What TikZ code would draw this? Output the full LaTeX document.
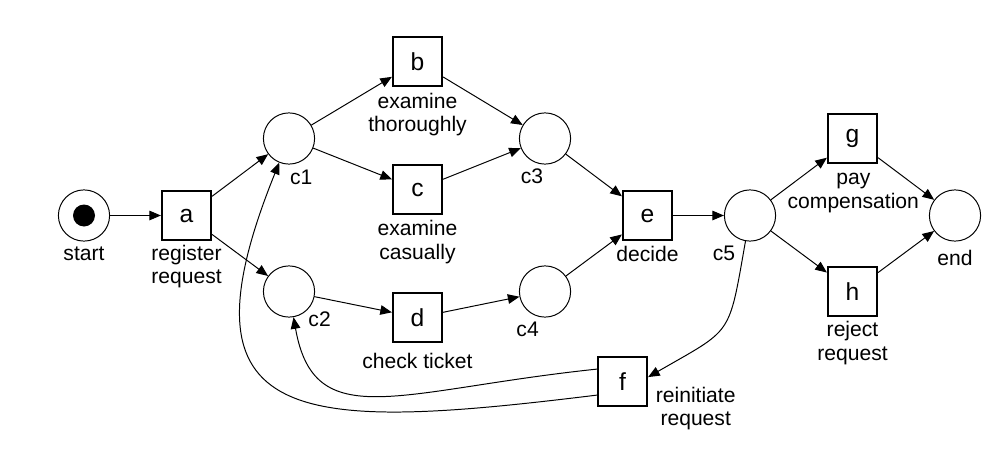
\documentclass[tikz,border=0pt]{standalone}
\usepackage{fontspec}
\setmainfont{Liberation Sans}
\usetikzlibrary{arrows.meta,calc}

\begin{document}
\begin{tikzpicture}[
  >={Triangle[length=2.9mm,width=2.4mm]},
  line cap=round,
  every node/.style={font=\fontsize{15}{16.7}\selectfont},
  netplace/.style={draw, circle, line width=0.7pt, minimum size=1.28cm, inner sep=0pt},
  nettrans/.style={draw, rectangle, line width=1.4pt, minimum size=1.23cm, inner sep=0pt,
    font=\fontsize{17.5}{19}\selectfont},
  lbl/.style={anchor=base, align=center, inner sep=0pt},
  flow/.style={->, line width=0.7pt}
]
  \useasboundingbox (0,0) rectangle (24.95,11.45);

  % Places
  \node[netplace] (start) at (2.1,6.0625) {};
  \node[netplace] (c1) at (7.225,7.9875) {};
  \node[netplace] (c2) at (7.225,4.1625) {};
  \node[netplace] (c3) at (13.625,7.9875) {};
  \node[netplace] (c4) at (13.625,4.1625) {};
  \node[netplace] (c5) at (18.75,6.0625) {};
  \node[netplace] (fin) at (23.875,6.0625) {};

  % Token in start
  \fill (start) circle (0.275);

  % Transitions
  \node[nettrans] (a) at (4.6625,6.0625) {a};
  \node[nettrans] (b) at (10.4375,9.9125) {b};
  \node[nettrans] (c) at (10.4375,6.7125) {c};
  \node[nettrans] (d) at (10.4375,3.5125) {d};
  \node[nettrans] (e) at (16.1875,6.0625) {e};
  \node[nettrans] (f) at (15.5625,1.9125) {f};
  \node[nettrans] (g) at (21.3125,7.9875) {g};
  \node[nettrans] (h) at (21.3125,4.1625) {h};

  % Labels (base = last line)
  \node[lbl] (lstart) at ($(start)+(0,-1.1125)$) {start};
  \node[lbl] (la) at ($(a)+(0,-1.70)$) {register\\request};
  \node[lbl] (lb) at ($(b)+(0,-1.755)$) {examine\\thoroughly};
  \node[lbl] (lc) at ($(c)+(0,-1.7375)$) {examine\\casually};
  \node[lbl] (ld) at ($(d)+(0,-1.2625)$) {check ticket};
  \node[lbl] (le) at ($(e)+(0,-1.155)$) {decide};
  \node[lbl] (lf) at ($(f)+(1.83,-1.105)$) {reinitiate\\request};
  \node[lbl] (lg) at ($(g)+(0.02,-1.7375)$) {pay\\compensation};
  \node[lbl] (lh) at ($(h)+(0,-1.7125)$) {reject\\request};
  \node[lbl] (lc1) at ($(c1)+(0.305,-1.1375)$) {c1};
  \node[lbl] (lc2) at ($(c2)+(0.765,-0.88)$) {c2};
  \node[lbl] (lc3) at ($(c3)+(-0.325,-1.1125)$) {c3};
  \node[lbl] (lc4) at ($(c4)+(-0.435,-1.1125)$) {c4};
  \node[lbl] (lc5) at ($(c5)+(-0.65,-1.1125)$) {c5};
  \node[lbl] (lfin) at ($(fin)+(0,-1.2375)$) {end};

  % Arcs
  \draw[flow] (start) -- (a);
  \draw[flow] (a) -- (c1);
  \draw[flow] (a) -- (c2);
  \draw[flow] (c1) -- (b);
  \draw[flow] (c1) -- (c);
  \draw[flow] (c2) -- (d);
  \draw[flow] (b) -- (c3);
  \draw[flow] (c) -- (c3);
  \draw[flow] (d) -- (c4);
  \draw[flow] (c3) -- (e);
  \draw[flow] (c4) -- (e);
  \draw[flow] (e) -- (c5);
  \draw[flow] (c5) -- (g);
  \draw[flow] (c5) -- (h);
  \draw[flow] (g) -- (fin);
  \draw[flow] (h) -- (fin);

  % Reinitiate loop
  \draw[flow] (c5) to[out=-100, in=30, looseness=1.5] ([yshift=0.11cm]f.east);
  \draw[flow] ([yshift=0.31cm]f.west) to[out=186, in=-80, out distance=5cm, in distance=3cm] (c2);
  \draw[flow] ([yshift=-0.34cm]f.west) to[out=187, in=-112, out distance=7.5cm, in distance=7.2cm] (c1);
\end{tikzpicture}
\end{document}
